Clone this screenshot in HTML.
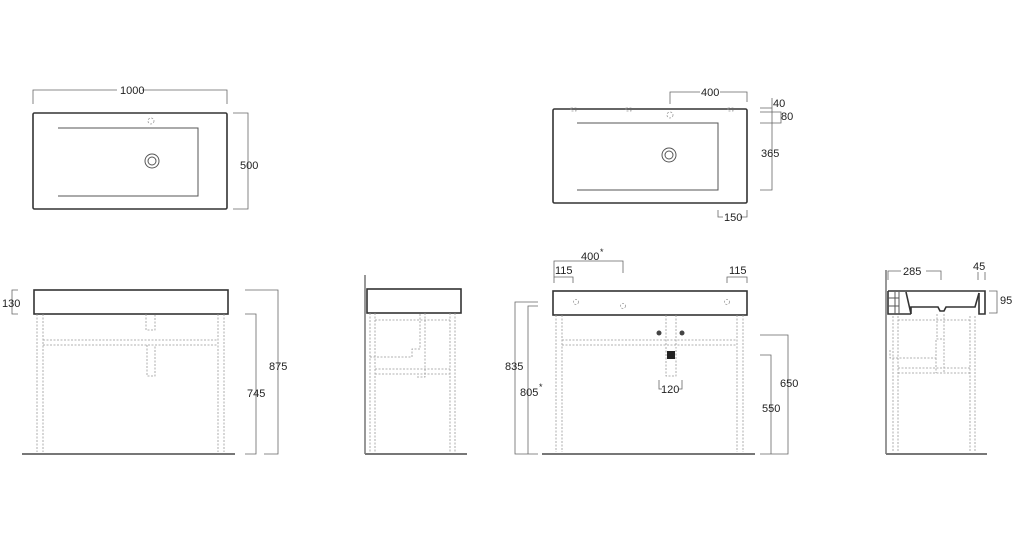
<!DOCTYPE html>
<html><head><meta charset="utf-8"><style>
html,body{margin:0;padding:0;background:#fff;width:1024px;height:539px;overflow:hidden}
svg{display:block}
text{font-family:"Liberation Sans",sans-serif;font-size:11px;fill:#222}
.o{fill:none;stroke:#333;stroke-width:1.6}
.d{fill:none;stroke:#666;stroke-width:0.8}
.t{fill:none;stroke:#999;stroke-width:0.8;stroke-dasharray:2 1.5}
.i{fill:none;stroke:#555;stroke-width:1}
.f{stroke:#777;stroke-width:2}
</style></head><body>
<svg width="1024" height="539" viewBox="0 0 1024 539">
<!-- Top-left plan -->
<rect class="o" x="33" y="113" width="194" height="96" rx="1.5"/>
<path class="i" d="M58 128H198V196H58"/>
<circle class="i" cx="152" cy="161" r="7"/><circle class="i" cx="152" cy="161" r="4"/>
<circle class="t" cx="151" cy="121" r="3"/>
<path class="d" d="M33 104V90H117M142 90H227V104"/>
<text x="120" y="94">1000</text>
<path class="d" d="M233 113H248V209H233"/>
<text x="240" y="169">500</text>

<!-- Top-right plan -->
<rect class="o" x="553" y="109" width="194" height="94" rx="1.5"/>
<path class="i" d="M577 123H718V190H577"/>
<circle class="i" cx="669" cy="155" r="7"/><circle class="i" cx="669" cy="155" r="4"/>
<circle class="t" cx="670" cy="115" r="3"/>
<rect class="t" x="571" y="108" width="5" height="3"/><rect class="t" x="626" y="108" width="5" height="3"/><rect class="t" x="728" y="108" width="5" height="3"/>
<path class="d" d="M670 104V92H700M720 92H747V102"/>
<text x="701" y="96">400</text>
<path class="d" d="M772 98V190H760M760 108H772M760 123H781V112H760"/>
<text x="773" y="107">40</text><text x="781" y="120">80</text><text x="761" y="157">365</text>
<path class="d" d="M718 210V217H723M740 217H747V210"/>
<text x="724" y="221">150</text>

<!-- Front view 1 -->
<rect class="o" x="34" y="290" width="194" height="24"/>
<path class="t" d="M37 314V452M43 314V452M218 314V452M224 314V452M43 340H218M43 345H218M146 314V330H155V314M147 345V376H155V345"/>
<line class="f" x1="22" y1="454" x2="235" y2="454"/>
<path class="d" d="M18 290H12V314H18"/>
<text x="2" y="307">130</text>
<path class="d" d="M245 290H278V454H264M245 314H256V454H245"/>
<text x="269" y="370">875</text><text x="247" y="397">745</text>

<!-- Side view 2 -->
<line x1="365" y1="275" x2="365" y2="454" stroke="#777" stroke-width="1.5"/>
<rect class="o" x="367" y="289" width="94" height="24"/>
<path class="t" d="M370 313V452M375 313V452M450 313V452M455 313V452M375 320H450M375 369H450M375 374H450M370 357H412V349H420V313M425 313V377H416"/>
<line class="f" x1="365" y1="454" x2="467" y2="454"/>

<!-- Front view 3 -->
<rect class="o" x="553" y="291" width="194" height="24"/>
<circle class="t" cx="576" cy="302" r="2.5"/><circle class="t" cx="623" cy="306" r="2.5"/><circle class="t" cx="727" cy="302" r="2.5"/>
<path class="t" d="M556 315V452M562 315V452M737 315V452M743 315V452M562 340H737M562 345H737M666 315V345M676 315V345M666 347V376H676V347"/>
<circle cx="659" cy="333" r="2.5" fill="#444"/><circle cx="682" cy="333" r="2.5" fill="#444"/>
<rect x="667" y="351" width="8" height="8" fill="#222"/>
<line class="f" x1="542" y1="454" x2="755" y2="454"/>
<path class="d" d="M554 283V261H623V273M554 283V277H573V283M727 283V277H747V283"/>
<text x="581" y="260">400</text><text x="600" y="255" style="font-size:9px">*</text>
<text x="555" y="274">115</text><text x="729" y="274">115</text>
<path class="d" d="M538 302H515V454H538M538 306H528V454H538"/>
<text x="505" y="370">835</text><text x="520" y="396">805</text><text x="539" y="390" style="font-size:9px">*</text>
<path class="d" d="M760 335H788V454H760M760 355H771V454H760"/>
<text x="780" y="387">650</text><text x="762" y="412">550</text>
<path class="d" d="M659 380V389H662M679 389H682V380"/>
<text x="661" y="393">120</text>

<!-- Side view 4 -->
<line x1="886" y1="270" x2="886" y2="454" stroke="#777" stroke-width="1.5"/>
<path class="o" d="M888 291H985V314H979V293"/>
<path class="o" d="M888 291V314H911"/>
<path class="o" d="M906 292L911 314V307H938L940 311H944L946 307H975L979 293"/>
<path class="i" d="M895 292V314M899 292V314M888 298H899M888 306H899"/>
<path class="t" d="M893 316V452M898 316V452M970 316V452M975 316V452M898 320H970M898 368H970M898 373H970M890 350V358H936V339H944V373M936 358V373M937 314V339M944 314V339"/>
<line class="f" x1="886" y1="454" x2="987" y2="454"/>
<path class="d" d="M888 280V271H901M926 271H941V280"/>
<text x="903" y="275">285</text>
<path class="d" d="M978 280V272M985 280V272"/>
<text x="973" y="270">45</text>
<path class="d" d="M989 291H997V313H989"/>
<text x="1000" y="304">95</text>
</svg>
</body></html>
